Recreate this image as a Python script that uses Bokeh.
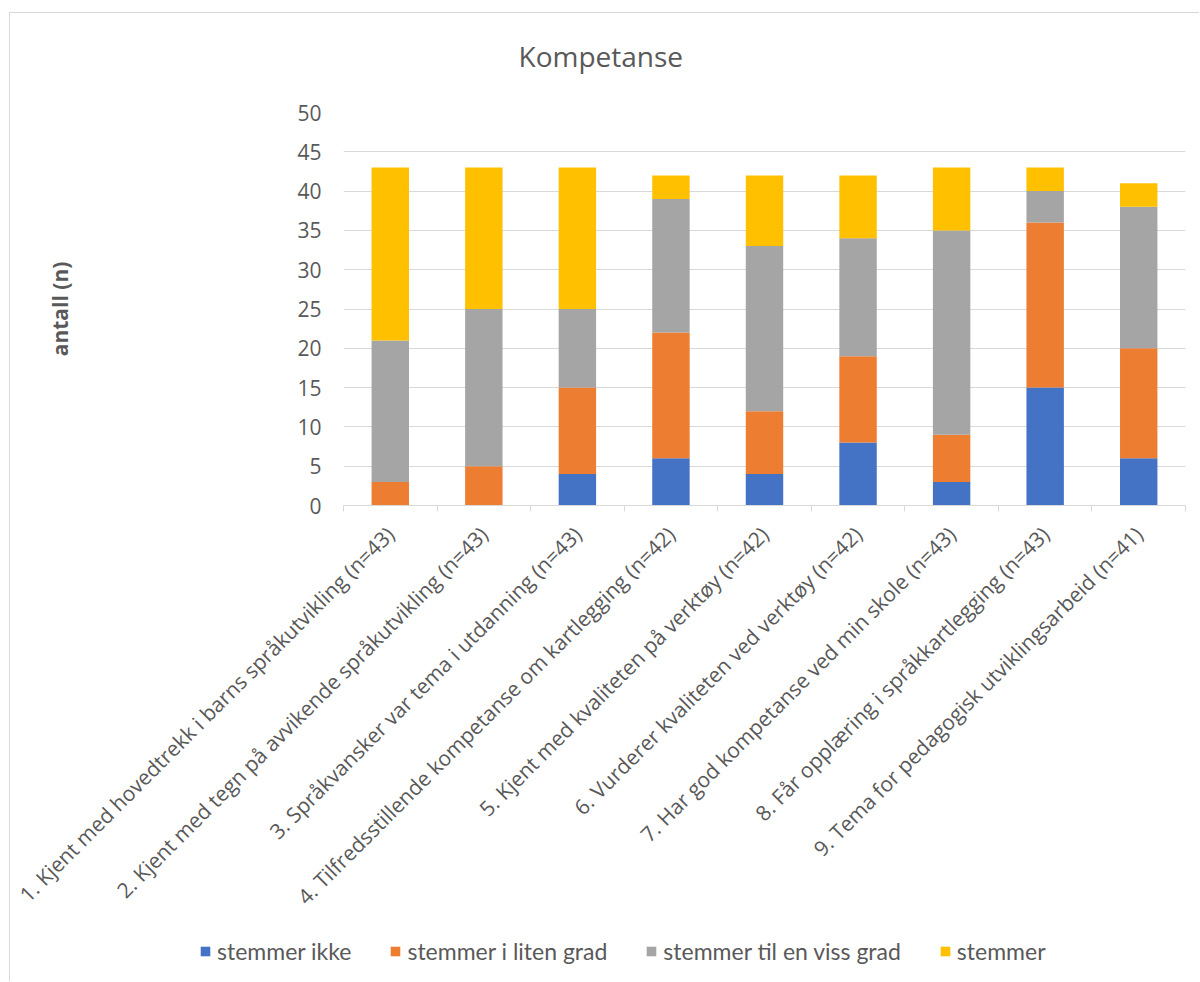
import math
from bokeh.plotting import figure
from bokeh.layouts import column, row
from bokeh.models import ColumnDataSource, FixedTicker, Legend, LegendItem, Range1d, Title
from bokeh.embed import file_html
from bokeh.resources import INLINE

categories = [
    "1. Kjent med hovedtrekk i barns språkutvikling (n=43)",
    "2. Kjent med tegn på avvikende språkutvikling (n=43)",
    "3. Språkvansker var tema i utdanning (n=43)",
    "4. Tilfredsstillende kompetanse om kartlegging (n=42)",
    "5. Kjent med kvaliteten på verktøy (n=42)",
    "6. Vurderer kvaliteten ved verktøy (n=42)",
    "7. Har god kompetanse ved min skole (n=43)",
    "8. Får opplæring i språkkartlegging (n=43)",
    "9. Tema for pedagogisk utviklingsarbeid (n=41)",
]
series_names = ["stemmer ikke", "stemmer i liten grad", "stemmer til en viss grad", "stemmer"]
stemmer_ikke = [0, 0, 4, 6, 4, 8, 3, 15, 6]
stemmer_i_liten_grad = [3, 5, 11, 16, 8, 11, 6, 21, 14]
stemmer_til_en_viss_grad = [18, 20, 10, 17, 21, 15, 26, 4, 18]
stemmer = [22, 18, 18, 3, 9, 8, 8, 3, 3]
colors = ["#4472C4", "#ED7D31", "#A5A5A5", "#FFC000"]
y_ticks = [0, 5, 10, 15, 20, 25, 30, 35, 40, 45, 50]

TXT = "#595959"
FONT = "Open Sans"
BORDER = "1px solid #d9d9d9"

xs = list(range(len(categories)))
keys = ["ikke", "liten", "viss", "stemmer"]
source = ColumnDataSource(dict(x=xs, ikke=stemmer_ikke, liten=stemmer_i_liten_grad,
                               viss=stemmer_til_en_viss_grad, stemmer=stemmer))

H1 = 915
p = figure(width=1190, height=H1,
           x_range=Range1d(-0.5, len(categories) - 0.5), y_range=Range1d(0, 50),
           output_backend="svg", toolbar_location=None,
           min_border_left=333, min_border_right=15, min_border_top=99, min_border_bottom=H1 - 492)
p.margin = (12, 0, 0, 9)
p.styles = {"border-left": BORDER, "border-top": BORDER}
p.outline_line_color = None
p.background_fill_color = "white"
p.border_fill_color = "white"

rs = p.vbar_stack(keys, x="x", width=0.4, fill_color=colors, line_color=None, source=source)

# title: spacer (nearest the frame) + main title above it
p.title.text = ""
p.title.standoff = 0
p.add_layout(Title(text=" ", text_font_size="1px", standoff=35), "above")
p.add_layout(Title(text="Kompetanse", text_font=FONT, text_font_size="28px",
                   text_font_style="normal", text_color=TXT, align="left",
                   offset=175, standoff=0), "above")

# x axis
xa = p.xaxis[0]
xa.ticker = FixedTicker(ticks=xs, minor_ticks=[i - 0.5 for i in range(len(categories) + 1)])
xa.major_label_overrides = {i: c for i, c in enumerate(categories)}
xa.major_label_orientation = math.pi / 4
xa.major_tick_line_color = None
xa.major_tick_out = 6
xa.minor_tick_line_color = "#d9d9d9"
xa.minor_tick_out = 6
xa.minor_tick_in = 0
xa.axis_line_color = "#d9d9d9"
xa.major_label_text_font = FONT
xa.major_label_text_font_size = "21px"
xa.major_label_text_color = TXT
xa.major_label_standoff = 19

# y axis
ya = p.yaxis[0]
ya.ticker = FixedTicker(ticks=y_ticks)
ya.major_tick_line_color = None
ya.minor_tick_line_color = None
ya.major_tick_out = 0
ya.axis_line_color = None
ya.major_label_text_font = FONT
ya.major_label_text_font_size = "21px"
ya.major_label_text_color = TXT
ya.major_label_standoff = 22
ya.axis_label = "antall (n)"
ya.axis_label_text_font = FONT
ya.axis_label_text_font_size = "21px"
ya.axis_label_text_font_style = "bold"
ya.axis_label_text_color = TXT
ya.axis_label_standoff = 220

p.xgrid.visible = False
p.ygrid.grid_line_color = "#d9d9d9"
p.ygrid.grid_line_width = 1

# legend strip below the chart
H2 = 969 - H1
p2 = figure(width=1190, height=H2, x_range=Range1d(100, 101), y_range=Range1d(100, 101),
            x_axis_type=None, y_axis_type=None, output_backend="svg", toolbar_location=None,
            min_border=0)
p2.min_border_left = 0
p2.min_border_right = 0
p2.min_border_top = 0
p2.min_border_bottom = 0
p2.margin = (0, 0, 0, 9)
p2.styles = {"border-left": BORDER}
p2.outline_line_color = None
p2.grid.visible = False
rs2 = p2.vbar_stack(keys, x="x", width=0.4, fill_color=colors, line_color=None, source=source)

legend = Legend(items=[LegendItem(label=n, renderers=[r]) for n, r in zip(series_names, rs2)],
                location=(189, 16), orientation="horizontal")
legend.glyph_width = 12
legend.glyph_height = 12
legend.label_standoff = 6
legend.spacing = 38
legend.padding = 0
legend.margin = 0
legend.border_line_color = None
legend.background_fill_alpha = 0
legend.label_text_font = "Lato"
legend.label_text_font_size = "23px"
legend.label_text_color = TXT
p2.add_layout(legend)

layout = column(p, row(p2, spacing=0), spacing=0)
open("out.html", "w").write(file_html(layout, INLINE))
